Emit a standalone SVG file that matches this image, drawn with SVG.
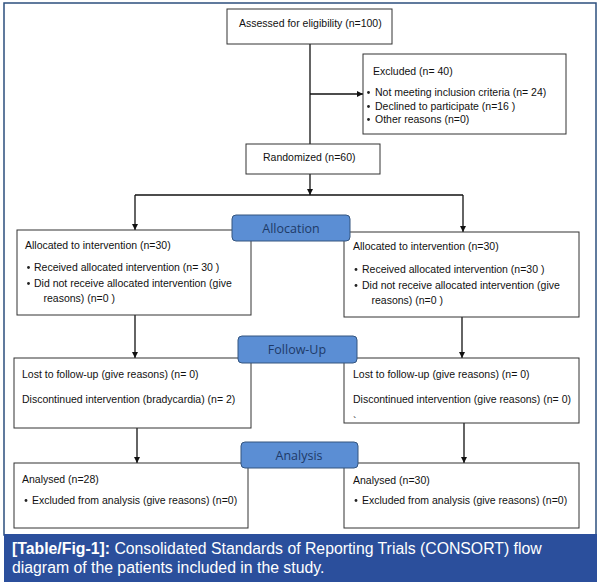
<svg xmlns="http://www.w3.org/2000/svg" width="599" height="585" viewBox="0 0 599 585">
<style>
.box{fill:#fff;stroke:#333;stroke-width:1}
.t{font-family:"Liberation Sans",Arial,sans-serif;font-size:10.5px;fill:#111}
.lab{fill:#5b8ed4;stroke:#34557f;stroke-width:1}
.lt{font-family:"Open Sans","Noto Sans",sans-serif;font-size:12.5px;fill:#1e3a68;text-anchor:middle}
.dot{fill:#222}
.ln{stroke:#111;stroke-width:1.3;fill:none}
.cap{font-family:"Liberation Sans",Arial,sans-serif;font-size:15.8px;fill:#fff}
</style>
<defs>
<marker id="ah" viewBox="0 0 10 10" refX="10" refY="5" markerWidth="6" markerHeight="6" markerUnits="userSpaceOnUse" orient="auto">
<path d="M0,0 L10,5 L0,10 z" fill="#111"/>
</marker>
</defs>
<rect x="0" y="0" width="599" height="585" fill="#fff"/>
<rect x="4" y="3" width="592" height="532" fill="#fff" stroke="#2d4f7e" stroke-width="1.5"/>

<g id="connectors">
<line class="ln" x1="310" y1="44" x2="310" y2="144"/>
<line class="ln" x1="310" y1="94" x2="363" y2="94" marker-end="url(#ah)"/>
<line class="ln" x1="310" y1="174" x2="310" y2="195" marker-end="url(#ah)"/>
<line class="ln" x1="135" y1="195" x2="463" y2="195"/>
<line class="ln" x1="135" y1="195" x2="135" y2="230" marker-end="url(#ah)"/>
<line class="ln" x1="463" y1="195" x2="463" y2="232" marker-end="url(#ah)"/>
<line class="ln" x1="135" y1="315" x2="135" y2="358" marker-end="url(#ah)"/>
<line class="ln" x1="462" y1="317" x2="462" y2="358" marker-end="url(#ah)"/>
<line class="ln" x1="137" y1="428" x2="137" y2="463" marker-end="url(#ah)"/>
<line class="ln" x1="464" y1="423" x2="464" y2="463" marker-end="url(#ah)"/>
</g>

<g id="assessed">
<rect class="box" x="227" y="9" width="165" height="35"/>
<text class="t" x="239" y="27">Assessed for eligibility (n=100)</text>
</g>

<g id="excluded">
<rect class="box" x="363" y="54" width="203" height="80"/>
<text class="t" x="373" y="75">Excluded (n= 40)</text>
<circle class="dot" cx="368.5" cy="92.5" r="1.4"/>
<text class="t" x="375" y="96">Not meeting inclusion criteria (n= 24)</text>
<circle class="dot" cx="368.5" cy="106.5" r="1.4"/>
<text class="t" x="375" y="110">Declined to participate (n=16 )</text>
<circle class="dot" cx="368.5" cy="119.5" r="1.4"/>
<text class="t" x="375" y="123">Other reasons (n=0)</text>
</g>

<g id="randomized">
<rect class="box" x="246" y="144" width="134" height="30"/>
<text class="t" x="263" y="161">Randomized (n=60)</text>
</g>

<g id="alloc-left">
<rect class="box" x="17" y="230" width="234" height="85"/>
<text class="t" x="25" y="249">Allocated to intervention (n=30)</text>
<circle class="dot" cx="28.5" cy="267.5" r="1.4"/>
<text class="t" x="34" y="271">Received allocated intervention (n= 30 )</text>
<circle class="dot" cx="28.5" cy="283.5" r="1.4"/>
<text class="t" x="34" y="287">Did not receive allocated intervention (give</text>
<text class="t" x="43.5" y="302">reasons) (n=0  )</text>
</g>

<g id="alloc-right">
<rect class="box" x="344" y="232" width="235" height="85"/>
<text class="t" x="353" y="250">Allocated to intervention (n=30)</text>
<circle class="dot" cx="356" cy="269.5" r="1.4"/>
<text class="t" x="362" y="273">Received allocated intervention (n=30  )</text>
<circle class="dot" cx="356" cy="285.5" r="1.4"/>
<text class="t" x="362" y="289">Did not receive allocated intervention (give</text>
<text class="t" x="371.5" y="304">reasons) (n=0  )</text>
</g>

<g id="label-allocation">
<rect class="lab" x="232" y="215" width="118" height="26" rx="4"/>
<text class="lt" x="291" y="233">Allocation</text>
</g>

<g id="follow-left">
<rect class="box" x="14" y="358" width="237" height="70"/>
<text class="t" x="22" y="378">Lost to follow-up (give reasons) (n= 0)</text>
<text class="t" x="22" y="403">Discontinued intervention (bradycardia) (n= 2)</text>
</g>

<g id="follow-right">
<rect class="box" x="344" y="358" width="235" height="65"/>
<text class="t" x="353" y="378">Lost to follow-up (give reasons) (n= 0)</text>
<text class="t" x="353" y="403">Discontinued intervention (give reasons) (n= 0)</text>
<text class="t" x="353" y="425">`</text>
</g>

<g id="label-followup">
<rect class="lab" x="238" y="336" width="119" height="27" rx="4"/>
<text class="lt" x="297" y="354">Follow-Up</text>
</g>

<g id="analysis-left">
<rect class="box" x="14" y="463" width="234" height="65"/>
<text class="t" x="22" y="483">Analysed (n=28)</text>
<circle class="dot" cx="26" cy="500.5" r="1.4"/>
<text class="t" x="32" y="504">Excluded from analysis (give reasons) (n=0)</text>
</g>

<g id="analysis-right">
<rect class="box" x="344" y="463" width="235" height="65"/>
<text class="t" x="353" y="484">Analysed (n=30)</text>
<circle class="dot" cx="356" cy="500.5" r="1.4"/>
<text class="t" x="362" y="504">Excluded from analysis (give reasons) (n=0)</text>
</g>

<g id="label-analysis">
<rect class="lab" x="241" y="442" width="117" height="26" rx="4"/>
<text class="lt" x="299" y="460">Analysis</text>
</g>

<g id="caption">
<rect x="4" y="534" width="593" height="48" fill="#2b4f9c"/>
<text class="cap" x="12" y="554"><tspan font-weight="bold">[Table/Fig-1]:</tspan> Consolidated Standards of Reporting Trials (CONSORT) flow</text>
<text class="cap" x="12" y="573">diagram of the patients included in the study.</text>
</g>
</svg>
